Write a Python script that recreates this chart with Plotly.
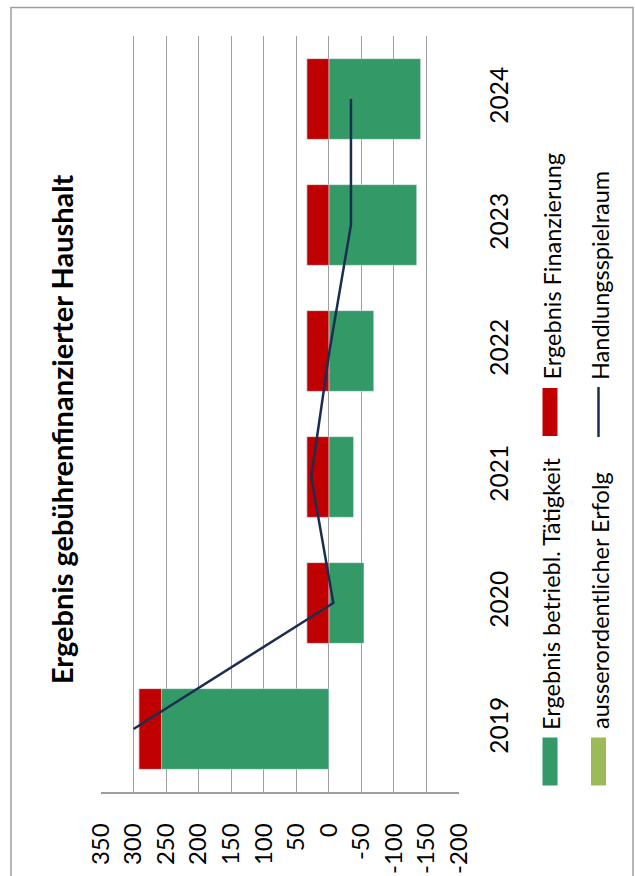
import plotly.graph_objects as go

years = ["2019", "2020", "2021", "2022", "2023", "2024"]
betrieb = [257, -54, -38, -69, -135, -141]      # Ergebnis betriebl. Tätigkeit
finanzierung = [35, 34, 34, 34, 34, 34]        # Ergebnis Finanzierung
ausserordentlich = [0, 0, 0, 0, 0, 0]          # ausserordentlicher Erfolg
spielraum = [300, -7, 27, -1, -34, -34]        # Handlungsspielraum

value_ticks = [350, 300, 250, 200, 150, 100, 50, 0, -50, -100, -150, -200]
value_labels = ["350", "300", "250", "200", "150", "100", "50", "0",
                "-50", "-100", "-150", "-200"]

GREEN = "#339966"
RED = "#C00000"
LIGHT = "#9BBB59"
NAVY = "#1B2E4F"
GRID = "#9E9E9E"
FONT = "Lato"

W, H = 635, 876
L, R, T, B = 101, 176, 36, 84
PW, PH = W - L - R, H - T - B


def px(x):
    return (x - L) / PW


def py(y):
    return (H - B - y) / PH


fig = go.Figure()
fig.add_trace(go.Bar(x=betrieb, y=years, orientation="h", marker_color=GREEN,
                     name="Ergebnis betriebl. Tätigkeit"))
fig.add_trace(go.Bar(x=finanzierung, y=years, orientation="h", marker_color=RED,
                     name="Ergebnis Finanzierung"))
fig.add_trace(go.Bar(x=ausserordentlich, y=years, orientation="h", marker_color=LIGHT,
                     name="ausserordentlicher Erfolg"))
fig.add_trace(go.Scatter(x=spielraum, y=years, mode="lines",
                         line=dict(color=NAVY, width=2.5), name="Handlungsspielraum"))

fig.update_layout(
    width=W, height=H,
    margin=dict(l=L, r=R, t=T, b=B),
    paper_bgcolor="white", plot_bgcolor="white",
    barmode="relative", bargap=0.36,
    showlegend=False,
    font=dict(family=FONT, color="black"),
)
fig.update_xaxes(
    range=[350, -200], tickvals=value_ticks, ticktext=value_labels,
    tickangle=-90, tickfont=dict(size=24),
    showgrid=True, gridcolor=GRID, gridwidth=1,
    showline=True, linecolor=GRID, linewidth=1.5,
    zeroline=False, ticks="", ticklabelstandoff=20, automargin=False,
)
fig.update_yaxes(
    type="category", side="right", tickangle=-90, tickfont=dict(size=24.5),
    showgrid=False, showline=False, zeroline=False, ticks="",
    ticklabelstandoff=23, automargin=False,
)

# outer chart border (bottom edge runs off the picture)
fig.add_shape(type="rect", xref="paper", yref="paper",
              x0=px(11), x1=px(633), y0=py(900), y1=py(7.5),
              line=dict(color=GRID, width=1.5))

# title, rotated like the rest of the chart
fig.add_annotation(text="<b>Ergebnis gebührenfinanzierter Haushalt</b>",
                   xref="paper", yref="paper", x=px(62), y=py(429),
                   textangle=-90, showarrow=False, font=dict(size=29),
                   xanchor="center", yanchor="middle")

# hand-built legend with rotated labels; text starts just above each swatch
legend = [
    ("rect", GREEN, 550, 761.5, "Ergebnis betriebl. Tätigkeit", 732),
    ("rect", RED, 550, 412, "Ergebnis Finanzierung", 382),
    ("rect", LIGHT, 598.5, 761.5, "ausserordentlicher Erfolg", 731),
    ("line", NAVY, 598.5, 412, "Handlungsspielraum", 382),
]
for kind, color, cx, cy, label, ty in legend:
    if kind == "rect":
        fig.add_shape(type="rect", xref="paper", yref="paper",
                      x0=px(cx - 7.5), x1=px(cx + 7.5), y0=py(cy + 24), y1=py(cy - 24),
                      line=dict(width=0), fillcolor=color)
    else:
        fig.add_shape(type="line", xref="paper", yref="paper",
                      x0=px(cx), x1=px(cx), y0=py(cy + 25), y1=py(cy - 25),
                      line=dict(color=color, width=2.5))
    fig.add_annotation(text=label, xref="paper", yref="paper", x=px(cx + 1), y=py(ty),
                       textangle=-90, showarrow=False, font=dict(size=23.5),
                       xanchor="center", yanchor="bottom")

# drop the default 8px page margin so the figure sits at the window's corner
fig.write_html("out.html", config={"displayModeBar": False},
               post_script="document.body.style.margin='0';document.body.style.overflow='hidden';")
